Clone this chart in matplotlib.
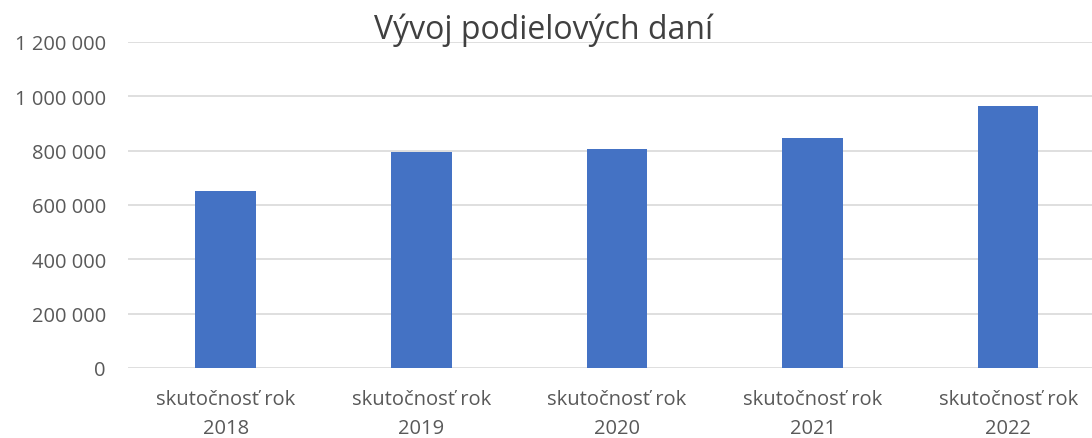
import matplotlib.pyplot as plt
from matplotlib.ticker import FuncFormatter

# data
categories = ["skutočnosť rok\n2018", "skutočnosť rok\n2019", "skutočnosť rok\n2020",
              "skutočnosť rok\n2021", "skutočnosť rok\n2022"]
values = [652000, 796000, 805000, 847000, 965000]
yticks = [0, 200000, 400000, 600000, 800000, 1000000, 1200000]

plt.rcParams['font.family'] = ['Open Sans', 'DejaVu Sans']

fig = plt.figure(figsize=(10.92, 4.39), dpi=100)
ax = fig.add_axes([0.1172, 0.1595, 0.8956, 0.7426])

ax.bar(range(len(values)), values, width=0.31, color='#4472C4', zorder=3)

ax.set_xlim(-0.5, len(values) - 0.5)
ax.set_ylim(0, 1200000)
ax.set_yticks(yticks)
ax.yaxis.set_major_formatter(FuncFormatter(lambda v, p: f"{int(v):,}".replace(",", " ")))
ax.set_xticks(range(len(values)))
ax.set_xticklabels(categories, linespacing=1.6)

ax.grid(axis='y', color='#D9D9D9', linewidth=1.2, zorder=0)
for s in ax.spines.values():
    s.set_visible(False)
ax.tick_params(axis='both', length=0, colors='#595959', labelsize=14.5)
ax.tick_params(axis='y', pad=16)
ax.tick_params(axis='x', pad=15)

fig.text(0.498, 0.93, "Vývoj podielových daní", ha='center', va='center',
         fontsize=23, color='#404040')

fig.savefig('out.png', dpi=100)
